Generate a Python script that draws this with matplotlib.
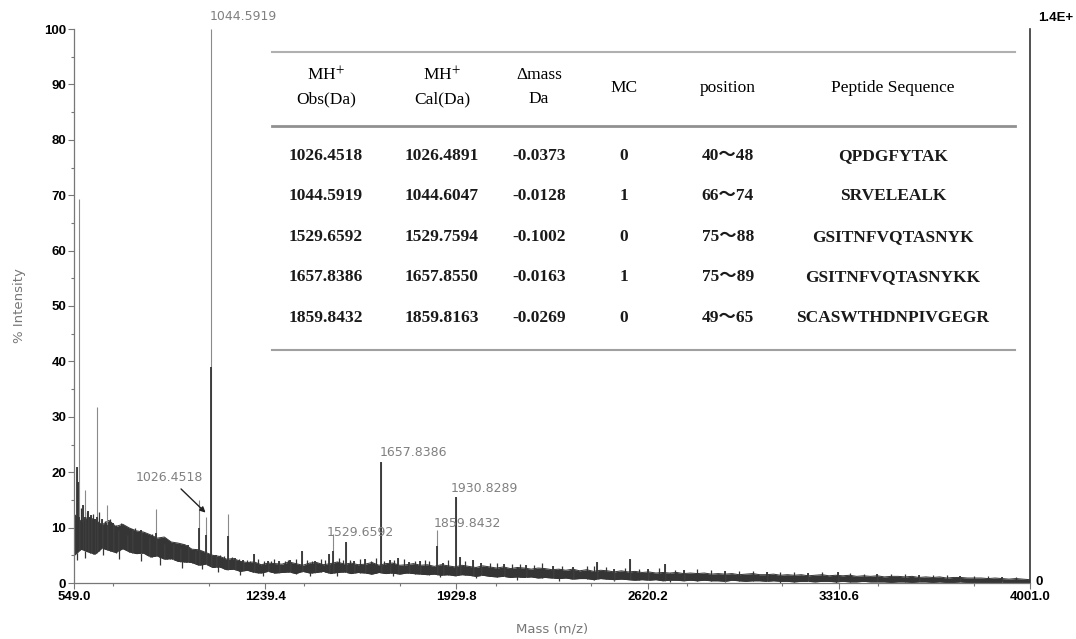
import numpy as np
import matplotlib
matplotlib.use('Agg')
import matplotlib.pyplot as plt
from matplotlib.ticker import MultipleLocator

plt.rcParams['mathtext.fontset'] = 'stix'

# Spectrum background band (every 25 Da from 550 to 4000)
mass_grid = np.arange(550, 4001, 25)
band_hi = [12.4, 11.1, 11.9, 11.4, 10.5, 11.3, 10.2, 10.6, 9.9, 9.4,
           9.2, 8.7, 8.1, 8.3, 7.4, 7.2, 6.9, 6.1, 6.0, 5.5,
           5.0, 4.8, 4.3, 4.4, 3.9, 3.7, 3.8, 3.3, 3.6, 3.5,
           3.4, 3.8, 3.5, 3.2, 3.6, 3.7, 3.3, 3.5, 3.8, 3.4,
           3.6, 3.3, 3.4, 3.7, 3.2, 3.5, 3.6, 3.2, 3.3, 3.5,
           3.2, 3.3, 3.0, 3.3, 3.1, 2.9, 3.2, 3.0, 2.8, 3.1,
           2.9, 2.7, 2.9, 2.6, 2.8, 2.7, 2.5, 2.7, 2.6, 2.4,
           2.5, 2.3, 2.5, 2.2, 2.4, 2.1, 2.3, 2.2, 2.0, 2.2,
           2.0, 2.1, 1.9, 2.0, 1.8, 1.9, 1.8, 1.9, 1.7, 1.8,
           1.7, 1.8, 1.6, 1.7, 1.6, 1.7, 1.5, 1.6, 1.7, 1.5,
           1.5, 1.6, 1.4, 1.5, 1.4, 1.5, 1.3, 1.4, 1.5, 1.3,
           1.4, 1.3, 1.4, 1.2, 1.3, 1.2, 1.3, 1.1, 1.2, 1.2,
           1.1, 1.2, 1.0, 1.1, 1.0, 1.1, 0.9, 1.0, 1.0, 0.9,
           0.9, 0.9, 0.8, 0.9, 0.8, 0.7, 0.8, 0.7, 0.6]
band_lo = [5.0, 6.1, 5.6, 5.2, 6.3, 5.9, 5.5, 6.2, 5.6, 5.3,
           5.4, 4.7, 4.9, 4.3, 4.4, 3.9, 3.8, 3.7, 3.2, 3.4,
           2.8, 2.9, 2.4, 2.5, 2.1, 2.3, 1.9, 1.8, 2.1, 1.8,
           1.9, 2.0, 1.7, 2.1, 1.8, 1.9, 2.1, 1.7, 1.9, 2.0,
           1.7, 1.9, 1.8, 1.6, 1.9, 1.7, 1.8, 1.6, 1.8, 1.7,
           1.6, 1.5, 1.6, 1.4, 1.5, 1.3, 1.5, 1.4, 1.2, 1.4,
           1.2, 1.1, 1.2, 1.0, 1.1, 1.0, 1.1, 0.9, 1.0, 0.9,
           0.8, 0.9, 0.7, 0.8, 0.8, 0.6, 0.8, 0.7, 0.6, 0.7,
           0.6, 0.5, 0.6, 0.5, 0.6, 0.4, 0.5, 0.5, 0.4, 0.5,
           0.4, 0.5, 0.4, 0.4, 0.3, 0.5, 0.4, 0.3, 0.4, 0.4,
           0.3, 0.4, 0.3, 0.3, 0.2, 0.3, 0.3, 0.2, 0.3, 0.3,
           0.2, 0.3, 0.2, 0.2, 0.3, 0.2, 0.2, 0.2, 0.1, 0.2,
           0.2, 0.1, 0.2, 0.2, 0.1, 0.2, 0.1, 0.1, 0.2, 0.1,
           0.1, 0.1, 0.1, 0.1, 0.1, 0.0, 0.1, 0.0, 0.0]

# Peaks: m/z, full height (thin grey part) and height of dark part
peak_mz = [561, 565, 568, 580, 589, 600, 612, 625, 631, 650, 669, 690, 709, 739, 760,
           790, 820, 844, 874, 905, 930, 961, 985, 1000, 1024, 1044.6, 1060, 1105,
           1130, 1160, 1200, 1250, 1290, 1330, 1371, 1420, 1468, 1486, 1531, 1560,
           1600, 1657.8, 1690, 1719, 1760, 1800, 1859.8, 1880, 1927, 1943, 1990,
           2020, 2100, 2180, 2280, 2350, 2437, 2500, 2555, 2620, 2683, 2750, 2900,
           3050, 3200, 3307, 3450, 3600, 3750, 3900]
peak_top = [21.0, 18.2, 69.4, 14.1, 16.8, 13.0, 12.2, 11.6, 31.8, 11.5, 14.0, 10.8, 9.6,
            8.7, 9.8, 9.5, 8.3, 13.4, 7.1, 7.0, 6.4, 6.8, 5.8, 15.0, 12.0, 100.0, 5.0,
            12.4, 4.6, 4.2, 5.2, 4.0, 3.9, 4.1, 5.8, 3.9, 5.2, 8.9, 7.4, 4.0, 4.3,
            21.9, 4.1, 4.5, 3.8, 4.0, 9.6, 3.7, 15.6, 4.7, 4.1, 3.6, 3.5, 3.2, 3.0,
            2.9, 3.8, 2.6, 4.3, 2.5, 3.4, 2.3, 2.2, 2.0, 1.8, 1.9, 1.6, 1.4, 1.3, 1.1]
peak_dark = [21.0, 18.2, 12.0, 14.1, 12.0, 13.0, 12.2, 11.6, 12.0, 11.5, 10.5, 10.8, 9.6,
             8.7, 9.8, 9.5, 8.3, 9.0, 7.1, 7.0, 6.4, 6.8, 5.8, 9.9, 8.6, 39.0, 5.0,
             8.5, 4.6, 4.2, 5.2, 4.0, 3.9, 4.1, 5.8, 3.9, 5.2, 5.8, 7.4, 4.0, 4.3,
             21.9, 4.1, 4.5, 3.8, 4.0, 6.7, 3.7, 15.6, 4.7, 4.1, 3.6, 3.5, 3.2, 3.0,
             2.9, 3.8, 2.6, 4.3, 2.5, 3.4, 2.3, 2.2, 2.0, 1.8, 1.9, 1.6, 1.4, 1.3, 1.1]

# small noise spikes above the band and dips below it
spike_mz = [575, 584, 595, 602, 606, 618, 633, 640, 660, 668, 678, 688, 700, 712, 720,
            730, 748, 758, 770, 782, 800, 812, 830, 840, 855, 866, 885, 895, 915, 925,
            945, 955, 975, 990, 1012, 1035, 1050, 1075, 1090, 1115, 1120, 1145, 1175,
            1185, 1215, 1235, 1260, 1270, 1310, 1320, 1350, 1390, 1410, 1440, 1455,
            1505, 1520, 1545, 1580, 1620, 1640, 1670, 1705, 1740, 1780, 1815, 1830,
            1900, 1960, 2050, 2075, 2130, 2160, 2210, 2240, 2310, 2400, 2425, 2470,
            2540, 2590, 2660, 2720, 2800, 2850, 2950, 3000, 3100, 3150, 3250, 3350,
            3400, 3500, 3550, 3650, 3700, 3800, 3850, 3950]
spike_top = [13.5, 11.0, 12.8, 12.0, 11.9, 12.5, 11.8, 12.9, 11.2, 10.9, 11.6, 10.5,
             10.4, 10.0, 10.8, 9.8, 9.6, 9.2, 9.9, 9.0, 9.2, 8.6, 8.8, 8.0, 8.1, 7.5,
             7.6, 7.2, 7.0, 6.5, 6.8, 6.3, 6.0, 5.7, 5.6, 5.3, 5.0, 5.1, 4.8, 4.5, 4.7,
             4.4, 4.2, 4.0, 4.4, 4.0, 3.9, 4.3, 4.0, 4.2, 4.4, 4.1, 4.0, 4.3, 4.1, 4.6,
             4.2, 4.2, 4.4, 4.0, 4.6, 4.0, 4.2, 4.4, 4.0, 4.1, 3.9, 4.2, 3.9, 3.7, 3.6,
             3.4, 3.5, 3.3, 3.6, 3.1, 3.0, 3.1, 2.9, 2.7, 2.6, 2.7, 2.4, 2.5, 2.3, 2.2,
             2.1, 2.0, 1.9, 1.9, 1.8, 1.7, 1.6, 1.6, 1.4, 1.5, 1.3, 1.2, 1.0]
dip_mz = [560, 590, 653, 710, 790, 860, 940, 1010, 1070, 1150, 1230, 1400, 1500, 1700,
          1870, 2000, 2150, 2300, 2500, 2700, 2900, 3100, 3300]
dip_bottom = [4.2, 4.6, 5.0, 4.4, 4.0, 3.3, 2.7, 2.6, 1.9, 1.5, 1.3, 1.3, 1.2, 1.2, 1.0,
              0.9, 0.6, 0.4, 0.3, 0.1, 0.1, 0.0, 0.0]

# Peak labels: text, label position (m/z, % intensity)
label_text = ['1044.5919', '1529.6592', '1657.8386', '1859.8432', '1930.8289']
label_mz = [1039, 1460, 1651, 1849, 1910]
label_y = [102.2, 9.2, 23.5, 10.7, 17.0]

# Table
table_header = [['MH$^{+}$', 'Obs(Da)'], ['MH$^{+}$', 'Cal(Da)'], ['Δmass', 'Da'],
                ['MC'], ['position'], ['Peptide Sequence']]
obs_mass = ['1026.4518', '1044.5919', '1529.6592', '1657.8386', '1859.8432']
cal_mass = ['1026.4891', '1044.6047', '1529.7594', '1657.8550', '1859.8163']
delta_mass = ['-0.0373', '-0.0128', '-0.1002', '-0.0163', '-0.0269']
missed_cleavage = ['0', '1', '0', '1', '0']
position = ['40～48', '66～74', '75～88', '75～89', '49～65']
peptide = ['QPDGFYTAK', 'SRVELEALK', 'GSITNFVQTASNYK', 'GSITNFVQTASNYKK', 'SCASWTHDNPIVGEGR']

W, H = 1076, 639
fig = plt.figure(figsize=(W / 100, H / 100), dpi=100)
ax = fig.add_axes([74 / W, 1 - 583 / H, (1030 - 74) / W, (583 - 29) / H])

dark = '#353535'
grey = '#8a8a8a'

ax.fill_between(mass_grid, band_lo, band_hi, color=dark, lw=0)
ax.plot(mass_grid, band_hi, color=dark, lw=0.7)
ax.plot(mass_grid, band_lo, color=dark, lw=0.7)

hi_at_dip = np.interp(dip_mz, mass_grid, band_hi)
ax.vlines(dip_mz, dip_bottom, hi_at_dip, color=dark, lw=0.9)
lo_at_spike = np.interp(spike_mz, mass_grid, band_lo)
ax.vlines(spike_mz, lo_at_spike, spike_top, color=dark, lw=0.9)

base = np.interp(peak_mz, mass_grid, band_lo)
ax.vlines(peak_mz, base, peak_top, color=grey, lw=0.8)
ax.vlines(peak_mz, base, peak_dark, color=dark, lw=1.3)

for t, x, y in zip(label_text, label_mz, label_y):
    ax.text(x, y, t, color='#808080', fontsize=9, ha='left', va='center', clip_on=False)

ax.annotate('1026.4518', xy=(1024, 12.7), xytext=(772, 19.0), color='#808080', fontsize=9,
            ha='left', va='center',
            arrowprops=dict(arrowstyle='-|>', color='#222222', lw=1.0, shrinkA=2, shrinkB=0,
                            mutation_scale=8))

ax.set_xlim(549, 4001)
ax.set_ylim(0, 100)
ax.set_xticks([549.0, 1239.4, 1929.8, 2620.2, 3310.6, 4001.0])
ax.set_xticklabels(['549.0', '1239.4', '1929.8', '2620.2', '3310.6', '4001.0'])
ax.xaxis.set_minor_locator(MultipleLocator(345.2))
ax.set_yticks(np.arange(0, 101, 10))
ax.yaxis.set_minor_locator(MultipleLocator(5))
ax.tick_params(axis='both', which='major', length=4, width=0.8, color='#777777',
               labelsize=9.5, pad=1.5)
ax.tick_params(axis='both', which='minor', length=2, width=0.8, color='#777777')
for lab in ax.get_xticklabels() + ax.get_yticklabels():
    lab.set_fontweight('bold')
    lab.set_family('Liberation Sans')

ax.spines['top'].set_visible(False)
for s in ['left', 'bottom', 'right']:
    ax.spines[s].set_color('#777777')
    ax.spines[s].set_linewidth(0.9)
ax.spines['right'].set_color('#333333')
ax.spines['right'].set_linewidth(1.2)

ax.set_xlabel('Mass (m/z)', color='#777777', fontsize=9.5, labelpad=14)
ax.set_ylabel('% Intensity', color='#777777', fontsize=9.5, labelpad=13)

# right axis labels
fig.text(1038 / W, 1 - 18 / H, '1.4E+', fontsize=9.5, fontweight='bold', family='Liberation Sans',
         ha='left', va='center')
fig.text(1036 / W, 1 - 582 / H, '0', fontsize=9.5, fontweight='bold', family='Liberation Sans',
         ha='left', va='center')

# table drawn in figure pixel coordinates
def fx(px):
    return px / W

def fy(py):
    return 1 - py / H

fig.add_artist(plt.Line2D([fx(272), fx(1015)], [fy(52), fy(52)], color='#b0b0b0', lw=1.5))
fig.add_artist(plt.Line2D([fx(272), fx(1015)], [fy(126), fy(126)], color='#909090', lw=2.0))
fig.add_artist(plt.Line2D([fx(272), fx(1015)], [fy(350), fy(350)], color='#a0a0a0', lw=1.5))

col_x = [326, 442, 539, 624, 728, 893]
row_y = [156, 196, 237, 277, 318]
serif = ['Liberation Serif', 'Noto Sans CJK SC']
for cx, head in zip(col_x, table_header):
    if len(head) == 2:
        fig.text(fx(cx), fy(75), head[0], fontsize=12.5, family=serif, ha='center', va='center')
        fig.text(fx(cx), fy(99), head[1], fontsize=12.5, family=serif, ha='center', va='center')
    else:
        fig.text(fx(cx), fy(88), head[0], fontsize=12.5, family=serif, ha='center', va='center')

columns = [obs_mass, cal_mass, delta_mass, missed_cleavage, position, peptide]
for cx, col in zip(col_x, columns):
    for ry, val in zip(row_y, col):
        fig.text(fx(cx), fy(ry), val, fontsize=12.5, family=serif, fontweight='bold',
                 ha='center', va='center', color='#1a1a1a')

fig.savefig('out.png', dpi=100)
